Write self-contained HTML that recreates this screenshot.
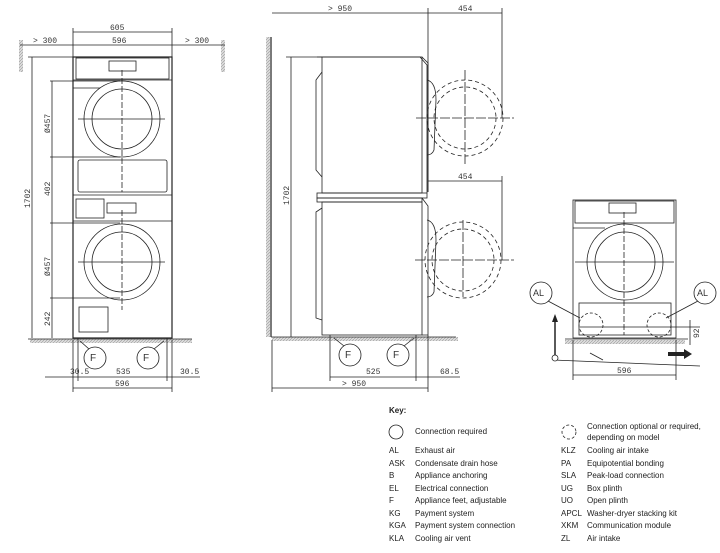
<!DOCTYPE html>
<html><head><meta charset="utf-8"><style>
html,body{margin:0;padding:0;background:#fff;width:720px;height:553px;overflow:hidden}
svg{display:block}
text{font-family:"Liberation Mono",monospace;font-size:8px;fill:#333}
.k{font-family:"Liberation Sans",sans-serif;font-size:8px;fill:#222}
</style></head><body>
<svg width="720" height="553" viewBox="0 0 720 553" xmlns="http://www.w3.org/2000/svg">
<defs>
<pattern id="h" width="3" height="3" patternUnits="userSpaceOnUse"><rect width="3" height="3" fill="#ddd"/><path d="M0 3L3 0" stroke="#999" stroke-width="0.6"/></pattern>
</defs>
<g stroke="#222" fill="none" stroke-width="0.8">
<!-- LEFT FRONT VIEW -->
<rect x="19" y="40" width="4" height="32" fill="url(#h)" stroke="none"/>
<rect x="221" y="40" width="4" height="32" fill="url(#h)" stroke="none"/>
<rect x="30" y="339" width="162" height="4" fill="url(#h)" stroke="none"/>
<line x1="28" y1="339" x2="192" y2="339"/>
<rect x="73" y="57" width="99" height="281" stroke-width="1.2"/>
<rect x="76" y="58" width="93" height="21"/>
<rect x="109" y="61" width="27" height="10"/>
<line x1="73" y1="80" x2="172" y2="80"/>
<circle cx="122" cy="119" r="38"/><circle cx="122" cy="119" r="30"/>
<line x1="73" y1="88" x2="100" y2="88"/>
<rect x="78" y="160" width="89" height="32" rx="2"/>
<line x1="73" y1="195" x2="172" y2="195"/>
<rect x="76" y="199" width="28" height="19"/><rect x="107" y="203" width="29" height="10"/>
<line x1="73" y1="221" x2="172" y2="221"/>
<circle cx="122" cy="262" r="38"/><circle cx="122" cy="262" r="30"/>
<rect x="79" y="307" width="29" height="25"/>
<line x1="122" y1="70" x2="122" y2="192" stroke-dasharray="6 2"/>
<line x1="122" y1="210" x2="122" y2="310" stroke-dasharray="6 2"/>
<line x1="78" y1="119" x2="165" y2="119"/><line x1="78" y1="262" x2="165" y2="262"/>
<line x1="28" y1="57" x2="73" y2="57"/><line x1="32" y1="57" x2="32" y2="338"/>
<line x1="52" y1="81" x2="52" y2="338"/>
<line x1="50" y1="81" x2="120" y2="81"/><line x1="50" y1="157" x2="120" y2="157"/>
<line x1="50" y1="223" x2="120" y2="223"/><line x1="50" y1="298" x2="120" y2="298"/>
<line x1="73" y1="28" x2="73" y2="57"/><line x1="172" y1="28" x2="172" y2="57"/>
<line x1="73" y1="32" x2="172" y2="32"/><line x1="20" y1="45" x2="225" y2="45"/>
<circle cx="95" cy="358" r="11"/><circle cx="148" cy="358" r="11"/>
<line x1="80" y1="341" x2="89" y2="349"/><line x1="164" y1="341" x2="154" y2="349"/>
<line x1="78" y1="338" x2="78" y2="381"/><line x1="167" y1="338" x2="167" y2="381"/>
<line x1="73" y1="340" x2="73" y2="392"/><line x1="172" y1="340" x2="172" y2="392"/>
<line x1="45" y1="377" x2="200" y2="377"/><line x1="73" y1="388" x2="172" y2="388"/>
<!-- MIDDLE SIDE VIEW -->
<rect x="266" y="37" width="4" height="300" fill="url(#h)" stroke="none"/>
<line x1="271" y1="37" x2="271" y2="337" stroke-width="1.2"/>
<rect x="272" y="337" width="186" height="4" fill="url(#h)" stroke="none"/>
<line x1="271" y1="337" x2="456" y2="337"/>
<rect x="322" y="57" width="100" height="136"/>
<path d="M317 57H420L427 65V193"/><path d="M422 57L428 63V192"/>
<path d="M322 72L316 80V170L322 177"/>
<rect x="317" y="193" width="110" height="5"/><rect x="317" y="198" width="105" height="4"/>
<rect x="322" y="202" width="100" height="133"/>
<path d="M422 198L428 206V335H422"/><path d="M322 208L316 212V318L322 320"/>
<path d="M427 80Q436 82 436 100L434 150Q432 155 427 155"/>
<path d="M427 220Q436 222 436 240L434 292Q432 297 427 297"/>
<g stroke-dasharray="4 3">
<circle cx="465" cy="118" r="38"/><circle cx="465" cy="118" r="31"/>
<circle cx="463" cy="260" r="38"/><circle cx="463" cy="260" r="31"/>
</g>
<line x1="465" y1="70" x2="465" y2="166" stroke-dasharray="10 2"/><line x1="416" y1="118" x2="514" y2="118" stroke-dasharray="10 2"/>
<line x1="463" y1="220" x2="463" y2="297" stroke-dasharray="10 2"/><line x1="415" y1="260" x2="514" y2="260" stroke-dasharray="10 2"/>
<line x1="272" y1="13" x2="502" y2="13"/><line x1="428" y1="8" x2="428" y2="192"/><line x1="502" y1="8" x2="502" y2="118"/>
<line x1="428" y1="181" x2="502" y2="181"/><line x1="502" y1="176" x2="502" y2="260"/>
<line x1="286" y1="57" x2="322" y2="57"/><line x1="291" y1="57" x2="291" y2="337"/>
<circle cx="350" cy="355" r="11"/><circle cx="398" cy="355" r="11"/>
<line x1="334" y1="338" x2="344" y2="346"/><line x1="414" y1="338" x2="404" y2="346"/>
<line x1="330" y1="335" x2="330" y2="381"/><line x1="416" y1="335" x2="416" y2="381"/>
<line x1="428" y1="335" x2="428" y2="392"/><line x1="272" y1="340" x2="272" y2="392"/>
<line x1="330" y1="377" x2="460" y2="377"/><line x1="272" y1="388" x2="428" y2="388"/>
<!-- RIGHT VIEW -->
<rect x="573" y="200" width="103" height="138"/>
<rect x="575" y="201" width="99" height="22"/><rect x="609" y="203" width="27" height="10"/>
<line x1="573" y1="228" x2="605" y2="228"/>
<circle cx="625" cy="262" r="38"/><circle cx="625" cy="262" r="30"/>
<rect x="579" y="303" width="92" height="32"/>
<line x1="624" y1="212" x2="624" y2="335" stroke-dasharray="6 2"/><line x1="575" y1="262" x2="674" y2="262"/>
<line x1="580" y1="327" x2="700" y2="327"/>
<g stroke-dasharray="3 2"><circle cx="591" cy="325" r="12"/><circle cx="659" cy="325" r="12"/></g>
<circle cx="541" cy="293" r="11"/><circle cx="705" cy="293" r="11"/>
<line x1="548" y1="301" x2="580" y2="318"/><line x1="698" y1="301" x2="666" y2="318"/>
<rect x="565" y="340" width="120" height="4" fill="url(#h)" stroke="none"/>
<line x1="565" y1="339" x2="688" y2="339"/>
<line x1="553" y1="360" x2="700" y2="366"/><line x1="590" y1="353" x2="603" y2="360"/>
<line x1="555" y1="355" x2="555" y2="320" stroke-width="1.5"/>
<circle cx="555" cy="358" r="3" fill="#fff"/>
<line x1="573" y1="340" x2="573" y2="380"/><line x1="676" y1="340" x2="676" y2="380"/>
<line x1="573" y1="375" x2="676" y2="375"/>
<line x1="690" y1="320" x2="690" y2="345"/>
<!-- Key -->
<circle cx="396" cy="432" r="7"/>
<circle cx="569" cy="432" r="7" stroke-dasharray="3 2"/>
</g>
<path d="M552 322L555 314L558 322Z" fill="#222"/>
<path d="M668 352H684V349L692 354L684 359V356H668Z" fill="#222"/>
<text x="110" y="30">605</text><text x="112" y="43">596</text>
<text x="33" y="43">&gt; 300</text><text x="185" y="43">&gt; 300</text>
<text x="70" y="374">30.5</text><text x="116" y="374">535</text><text x="180" y="374">30.5</text><text x="115" y="386">596</text>
<text x="90" y="361" style="font-family:'Liberation Sans';font-size:10px">F</text><text x="143" y="361" style="font-family:'Liberation Sans';font-size:10px">F</text>
<text transform="translate(30,208) rotate(-90)">1702</text>
<text transform="translate(50,133) rotate(-90)">Ø457</text>
<text transform="translate(50,196) rotate(-90)">402</text>
<text transform="translate(50,276) rotate(-90)">Ø457</text>
<text transform="translate(50,326) rotate(-90)">242</text>
<text x="328" y="11">&gt; 950</text><text x="458" y="11">454</text><text x="458" y="179">454</text>
<text transform="translate(289,205) rotate(-90)">1702</text>
<text x="366" y="374">525</text><text x="440" y="374">68.5</text><text x="342" y="386">&gt; 950</text>
<text x="345" y="358" style="font-family:'Liberation Sans';font-size:10px">F</text><text x="393" y="358" style="font-family:'Liberation Sans';font-size:10px">F</text>
<text x="533" y="296" style="font-family:'Liberation Sans';font-size:9px">AL</text><text x="697" y="296" style="font-family:'Liberation Sans';font-size:9px">AL</text>
<text x="617" y="373">596</text>
<text transform="translate(699,338) rotate(-90)">92</text>
<g class="k">
<text class="k" x="389" y="413" style="font-weight:bold">Key:</text>
<text class="k" x="415" y="434">Connection required</text>
<text class="k" x="587" y="429">Connection optional or required,</text>
<text class="k" x="587" y="440">depending on model</text>
<text class="k" x="389" y="453">AL</text><text class="k" x="415" y="453">Exhaust air</text>
<text class="k" x="389" y="466">ASK</text><text class="k" x="415" y="466">Condensate drain hose</text>
<text class="k" x="389" y="478">B</text><text class="k" x="415" y="478">Appliance anchoring</text>
<text class="k" x="389" y="491">EL</text><text class="k" x="415" y="491">Electrical connection</text>
<text class="k" x="389" y="503">F</text><text class="k" x="415" y="503">Appliance feet, adjustable</text>
<text class="k" x="389" y="516">KG</text><text class="k" x="415" y="516">Payment system</text>
<text class="k" x="389" y="528">KGA</text><text class="k" x="415" y="528">Payment system connection</text>
<text class="k" x="389" y="541">KLA</text><text class="k" x="415" y="541">Cooling air vent</text>
<text class="k" x="561" y="453">KLZ</text><text class="k" x="587" y="453">Cooling air intake</text>
<text class="k" x="561" y="466">PA</text><text class="k" x="587" y="466">Equipotential bonding</text>
<text class="k" x="561" y="478">SLA</text><text class="k" x="587" y="478">Peak-load connection</text>
<text class="k" x="561" y="491">UG</text><text class="k" x="587" y="491">Box plinth</text>
<text class="k" x="561" y="503">UO</text><text class="k" x="587" y="503">Open plinth</text>
<text class="k" x="561" y="516">APCL</text><text class="k" x="587" y="516">Washer-dryer stacking kit</text>
<text class="k" x="561" y="528">XKM</text><text class="k" x="587" y="528">Communication module</text>
<text class="k" x="561" y="541">ZL</text><text class="k" x="587" y="541">Air intake</text>
</g>
</svg>
</body></html>
